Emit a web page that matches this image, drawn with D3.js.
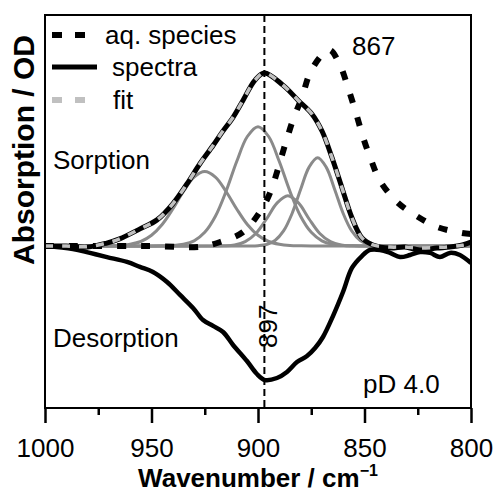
<!DOCTYPE html>
<html><head><meta charset="utf-8">
<script src="https://cdn.jsdelivr.net/npm/d3@7"></script>
<style>html,body{margin:0;padding:0;background:#fff}</style>
</head><body>
<svg id="chart" width="496" height="492" xmlns="http://www.w3.org/2000/svg"></svg>
<script>
// ---- data ----
const xTicks = [1000, 950, 900, 850, 800];
const xMinorTicks = [975, 925, 875, 825];
const peakMarker = 897;
const legendLabels = ["aq. species", "spectra", "fit"];

// sorption spectrum
const sorptionWn = [1000, 990, 980, 971, 965, 955.4, 947.4, 940, 933.3, 927.2, 921.1, 916.9, 911.7, 907, 901.4, 897, 888.3, 881.2, 874.6, 869.9, 865.3, 860.6, 855.9, 851.2, 846, 838, 831, 824, 816, 810, 804, 800];
const sorptionOD = [0, 0, -0.006, 0.017, 0.041, 0.099, 0.151, 0.244, 0.36, 0.477, 0.581, 0.657, 0.744, 0.843, 0.959, 1.0, 0.93, 0.843, 0.762, 0.663, 0.512, 0.337, 0.163, 0.047, 0.006, -0.012, -0.006, -0.023, -0.012, -0.006, 0.006, 0.023];
// fit of sorption spectrum
const fitWn = [1000, 990, 980, 971, 965, 955.4, 947.4, 940, 933.3, 927.2, 921.1, 916.9, 911.7, 907, 901.4, 897, 888.3, 881.2, 874.6, 869.9, 865.3, 860.6, 855.9, 851.2, 846, 838, 831, 824, 816, 810, 804, 800];
const fitOD = [0, 0, -0.004, 0.017, 0.041, 0.099, 0.151, 0.244, 0.36, 0.477, 0.581, 0.657, 0.744, 0.843, 0.959, 1.0, 0.93, 0.843, 0.762, 0.663, 0.512, 0.337, 0.163, 0.047, 0.006, -0.006, -0.006, -0.012, -0.008, -0.004, 0.004, 0.012];
// desorption spectrum
const desorptionWn = [1000, 986.9, 978.9, 970.9, 961.5, 955.4, 949.3, 942.7, 936.6, 930.5, 925.8, 921.1, 916.4, 911.7, 905.2, 900.5, 896.7, 891.1, 886.4, 881.7, 877, 873.2, 869.5, 864.8, 860.1, 855.9, 851.2, 847.4, 842.7, 838, 833.3, 828.6, 824, 819.2, 814.6, 809.9, 805.2, 800];
const desorptionOD = [0, -0.017, -0.04, -0.064, -0.092, -0.121, -0.15, -0.208, -0.283, -0.358, -0.428, -0.462, -0.497, -0.572, -0.665, -0.74, -0.775, -0.763, -0.728, -0.671, -0.636, -0.59, -0.526, -0.405, -0.266, -0.127, -0.058, -0.023, -0.023, -0.04, -0.064, -0.052, -0.035, -0.04, -0.064, -0.04, -0.052, -0.098];
// aqueous species reference
const aqWn = [1000, 950.7, 927.2, 917.8, 907, 899.1, 894.4, 887.3, 883.6, 879.3, 875.6, 869.5, 866.2, 861.5, 857.7, 854, 850.7, 846.9, 842.7, 834.7, 826.3, 815.9, 804.2, 800];
const aqOD = [0, 0, -0.005, 0.023, 0.081, 0.197, 0.306, 0.584, 0.728, 0.861, 1.0, 1.11, 1.133, 1.046, 0.913, 0.769, 0.63, 0.497, 0.376, 0.254, 0.179, 0.11, 0.075, 0.069];
// fitted components
const comp1Wn = [1000, 975, 970, 965, 960, 955, 950, 945, 940, 935, 930, 925, 920, 915, 910, 905, 900, 895, 890, 885, 880, 875, 800];
const comp1OD = [0, 0, 0.001, 0.003, 0.01, 0.026, 0.062, 0.124, 0.214, 0.315, 0.398, 0.43, 0.398, 0.315, 0.214, 0.124, 0.062, 0.026, 0.01, 0.003, 0.001, 0, 0];
const comp2Wn = [1000, 950, 945, 940, 935, 930, 925, 920, 915, 910, 905, 900, 895, 890, 885, 880, 875, 870, 865, 860, 855, 850, 800];
const comp2OD = [0, 0, 0.001, 0.003, 0.01, 0.03, 0.079, 0.172, 0.316, 0.488, 0.633, 0.69, 0.633, 0.488, 0.316, 0.172, 0.079, 0.03, 0.01, 0.003, 0.001, 0, 0];
const comp3Wn = [1000, 921, 916, 911, 906, 901, 896, 891, 886, 881, 876, 871, 866, 861, 856, 851, 800];
const comp3OD = [0, 0, 0.001, 0.006, 0.025, 0.072, 0.156, 0.249, 0.29, 0.249, 0.156, 0.072, 0.025, 0.006, 0.001, 0, 0];
const comp4Wn = [1000, 904, 900, 896, 892, 888, 884, 880, 876, 872, 868, 864, 860, 856, 852, 848, 844, 840, 800];
const comp4OD = [0, 0, 0.002, 0.009, 0.032, 0.087, 0.188, 0.327, 0.456, 0.51, 0.456, 0.327, 0.188, 0.087, 0.032, 0.009, 0.002, 0, 0];

// ---- drawing ----
const svg = d3.select("#chart");
const font = "'Liberation Sans', Arial, sans-serif";
const L = 45, R = 471, T = 15, B = 408;
const x = d3.scaleLinear().domain([1000, 800]).range([L, R]);
const y = d3.scaleLinear().domain([0, 1]).range([246, 73]);

svg.append("defs").append("clipPath").attr("id", "clip")
  .append("rect").attr("x", L).attr("y", T).attr("width", R - L).attr("height", B - T);

const plot = svg.append("g").attr("clip-path", "url(#clip)");
const line = d3.line().x(d => x(d[0])).y(d => y(d[1])).curve(d3.curveCatmullRom.alpha(0.5));
const zip = (a, b) => a.map((v, i) => [v, b[i]]);

// components
[[comp1Wn, comp1OD], [comp2Wn, comp2OD], [comp3Wn, comp3OD], [comp4Wn, comp4OD]].forEach(([w, v]) => {
  plot.append("path").attr("d", line(zip(w, v)))
    .attr("fill", "none").attr("stroke", "#8a8a8a").attr("stroke-width", 3);
});
// aqueous species
plot.append("path").attr("d", line(zip(aqWn, aqOD)))
  .attr("fill", "none").attr("stroke", "#000").attr("stroke-width", 6)
  .attr("stroke-dasharray", "9,15");
// desorption
plot.append("path").attr("d", line(zip(desorptionWn, desorptionOD)))
  .attr("fill", "none").attr("stroke", "#000").attr("stroke-width", 4.5);
// sorption
plot.append("path").attr("d", line(zip(sorptionWn, sorptionOD)))
  .attr("fill", "none").attr("stroke", "#000").attr("stroke-width", 5);
// fit
plot.append("path").attr("d", line(zip(fitWn, fitOD)))
  .attr("fill", "none").attr("stroke", "#c0c0c0").attr("stroke-width", 3.5)
  .attr("stroke-dasharray", "8,9");
// marker line
plot.append("line").attr("x1", x(peakMarker)).attr("x2", x(peakMarker))
  .attr("y1", T).attr("y2", B)
  .attr("stroke", "#000").attr("stroke-width", 2).attr("stroke-dasharray", "7,4");

// frame
svg.append("rect").attr("x", L).attr("y", T).attr("width", R - L).attr("height", B - T)
  .attr("fill", "none").attr("stroke", "#000").attr("stroke-width", 2);

// axes
const ax = svg.append("g").attr("transform", `translate(0,${B})`)
  .call(d3.axisBottom(x).tickValues(xTicks).tickSize(15).tickFormat(d3.format("d")));
ax.select(".domain").remove();
ax.selectAll(".tick line").attr("stroke", "#000").attr("stroke-width", 2.5);
ax.selectAll(".tick text").attr("font-family", font).attr("font-size", 26)
  .attr("fill", "#000").attr("y", 49).attr("dy", 0);
const axm = svg.append("g").attr("transform", `translate(0,${B})`)
  .call(d3.axisBottom(x).tickValues(xMinorTicks).tickSize(7).tickFormat(""));
axm.select(".domain").remove();
axm.selectAll(".tick line").attr("stroke", "#000").attr("stroke-width", 2.5);

// axis titles
const xt = svg.append("text").attr("x", 258).attr("y", 487).attr("text-anchor", "middle")
  .attr("font-family", font).attr("font-size", 26).attr("font-weight", "bold");
xt.append("tspan").text("Wavenumber / cm");
xt.append("tspan").text("\u22121").attr("font-size", 16).attr("dy", -11);

svg.append("text").attr("transform", "translate(34,150) rotate(-90)")
  .attr("text-anchor", "middle").attr("font-family", font).attr("font-size", 30)
  .attr("font-weight", "bold").text("Absorption / OD");

// annotations
const ann = (t, xx, yy) => svg.append("text").attr("x", xx).attr("y", yy)
  .attr("font-family", font).attr("font-size", 26).text(t);
ann("Sorption", 53, 169);
ann("Desorption", 53, 347);
ann("867", 352, 55);
ann("pD 4.0", 363, 393);
svg.append("text").attr("transform", `translate(${x(peakMarker) + 13},348) rotate(-90)`)
  .attr("font-family", font).attr("font-size", 26).text(String(peakMarker));

// legend
const lg = svg.append("g");
lg.append("line").attr("x1", 52).attr("x2", 86).attr("y1", 35).attr("y2", 35)
  .attr("stroke", "#000").attr("stroke-width", 6).attr("stroke-dasharray", "10,13");
lg.append("line").attr("x1", 52).attr("x2", 97).attr("y1", 67).attr("y2", 67)
  .attr("stroke", "#000").attr("stroke-width", 5);
lg.append("line").attr("x1", 52).attr("x2", 86).attr("y1", 100).attr("y2", 100)
  .attr("stroke", "#c0c0c0").attr("stroke-width", 6).attr("stroke-dasharray", "10,13");
[[legendLabels[0], 105, 44], [legendLabels[1], 112, 76], [legendLabels[2], 113, 109]].forEach(([t, xx, yy]) => {
  lg.append("text").attr("x", xx).attr("y", yy).attr("font-family", font)
    .attr("font-size", 26).text(t);
});
</script>
</body></html>
